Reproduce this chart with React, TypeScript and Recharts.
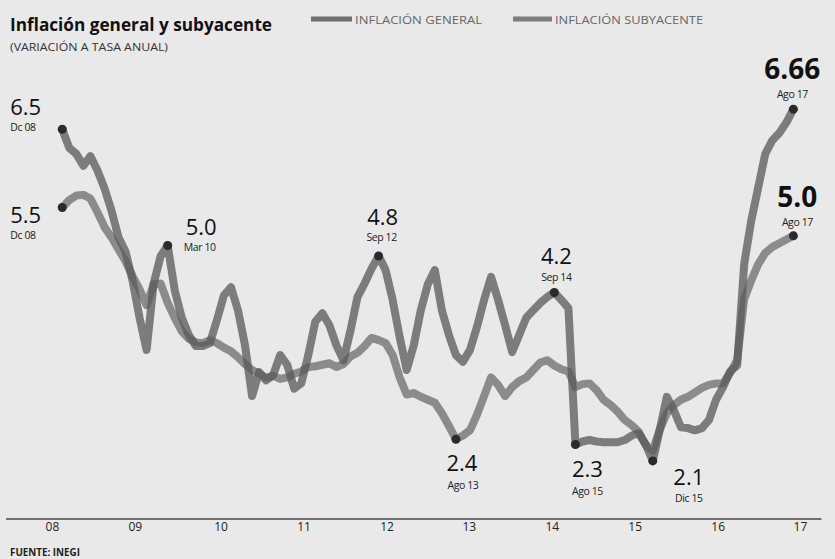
import React from "react";
import { LineChart, Line, XAxis, YAxis, ReferenceDot } from "recharts";

// monthly values, Dec 2008 (index 0) to Aug 2017 (index 104)
const general = [
  6.53,
  6.28, 6.2, 6.04, 6.17, 5.98, 5.74, 5.44, 5.08, 4.89, 4.5, 4.0, 3.57,
  4.46, 4.83, 4.97, 4.37, 4.0, 3.77, 3.62, 3.62, 3.66, 3.97, 4.3, 4.41,
  4.1, 3.63, 2.95, 3.27, 3.16, 3.23, 3.5, 3.37, 3.05, 3.12, 3.5, 3.95,
  4.06, 3.9, 3.63, 3.43, 3.83, 4.28, 4.46, 4.66, 4.83, 4.64, 4.24, 3.74,
  3.3, 3.63, 4.1, 4.45, 4.64, 4.1, 3.77, 3.5, 3.41, 3.57, 3.88, 4.24,
  4.55, 4.24, 3.9, 3.54, 3.77, 4.0, 4.1, 4.2, 4.28, 4.34, 4.24, 4.13,
  2.3, 2.34, 2.36, 2.34, 2.33, 2.33, 2.33, 2.36, 2.42, 2.45, 2.3, 2.08,
  2.5, 2.94, 2.76, 2.53, 2.52, 2.49, 2.52, 2.63, 2.9, 3.07, 3.28, 3.36,
  4.72, 5.3, 5.75, 6.2, 6.38, 6.48, 6.62, 6.8,
];

const core = [
  5.48,
  5.58, 5.64, 5.65, 5.6, 5.42, 5.22, 5.08, 4.92, 4.76, 4.56, 4.38, 4.17,
  4.45, 4.46, 4.2, 4.0, 3.82, 3.72, 3.67, 3.66, 3.7, 3.66, 3.6, 3.55,
  3.47, 3.38, 3.3, 3.25, 3.2, 3.22, 3.18, 3.2, 3.25, 3.28, 3.34, 3.35,
  3.37, 3.39, 3.34, 3.38, 3.48, 3.53, 3.62, 3.73, 3.7, 3.66, 3.5, 3.2,
  2.97, 2.99, 2.94, 2.9, 2.86, 2.72, 2.55, 2.37, 2.42, 2.49, 2.7, 2.95,
  3.2, 3.1, 2.95, 3.07, 3.15, 3.2, 3.3, 3.4, 3.43, 3.36, 3.31, 3.28,
  3.07, 3.11, 3.12, 3.03, 2.9, 2.83, 2.74, 2.63, 2.56, 2.47, 2.29, 2.22,
  2.5, 2.72, 2.83, 2.9, 2.94, 3.0, 3.06, 3.1, 3.12, 3.12, 3.26, 3.43,
  4.25, 4.5, 4.72, 4.87, 4.95, 5.0, 5.05, 5.1,
];

const yearLabels = ["08", "09", "10", "11", "12", "13", "14", "15", "16", "17"];
// where each year label sits, in month index
const yearTickPos = [-1.4, 10.4, 22.6, 34.4, 46.2, 57.9, 69.7, 81.5, 93.3, 105];

// labelled points
const annotations = [
  { series: "general", m: 0, value: "6.5", date: "Dc 08" },
  { series: "core", m: 0, value: "5.5", date: "Dc 08" },
  { series: "general", m: 15, value: "5.0", date: "Mar 10" },
  { series: "general", m: 45, value: "4.8", date: "Sep 12" },
  { series: "general", m: 70, value: "4.2", date: "Sep 14" },
  { series: "core", m: 56, value: "2.4", date: "Ago 13" },
  { series: "general", m: 73, value: "2.3", date: "Ago 15" },
  { series: "general", m: 84, value: "2.1", date: "Dic 15" },
  { series: "general", m: 104, value: "6.66", date: "Ago 17" },
  { series: "core", m: 104, value: "5.0", date: "Ago 17" },
];

// text placement relative to each dot
const annotationLayout = [
  { anchor: "start", vx: -52, vy: -14, dx: -52, dy: 2, bold: false },
  { anchor: "start", vx: -52, vy: 15, dx: -52, dy: 31, bold: false },
  { anchor: "start", vx: 18, vy: -11, dx: 16, dy: 5, bold: false },
  { anchor: "middle", vx: 4, vy: -31, dx: 3, dy: -15, bold: false },
  { anchor: "middle", vx: 2, vy: -28, dx: 2, dy: -11, bold: false },
  { anchor: "middle", vx: 6, vy: 32, dx: 7, dy: 50, bold: false },
  { anchor: "middle", vx: 12, vy: 33, dx: 12, dy: 51, bold: false },
  { anchor: "middle", vx: 36, vy: 24, dx: 36, dy: 41, bold: false },
  { anchor: "middle", vx: -1, vy: -30, dx: -1, dy: -11, bold: true },
  { anchor: "middle", vx: 4, vy: -29, dx: 4, dy: -10, bold: true },
];

const rows = general.map((g, i) => ({ m: i, general: g, core: core[i] }));

const FONT = "'Open Sans', 'Noto Sans', sans-serif";

function makeShape(idx: number) {
  const a = annotations[idx];
  const l = annotationLayout[idx];
  return (p: any) => {
    const cx = p.cx;
    const cy = p.cy;
    if (cx == null || cy == null) return <g />;
    return (
      <g>
        <circle cx={cx} cy={cy} r={4.5} fill="#2b2b2b" />
        <text
          x={cx + l.vx}
          y={cy + l.vy}
          textAnchor={l.anchor}
          fontFamily={FONT}
          fontSize={l.bold ? 28 : 22}
          fontWeight={l.bold ? 700 : 400}
          fill="#111"
        >
          {a.value}
        </text>
        <text
          x={cx + l.dx}
          y={cy + l.dy}
          textAnchor={l.anchor}
          fontFamily={FONT}
          fontSize={10.5}
          letterSpacing={-0.4}
          fill="#222"
        >
          {a.date}
        </text>
      </g>
    );
  };
}

export default function App() {
  return (
    <div style={{ position: "relative", width: 835, height: 559, background: "#e9e9e9" }}>
      <style>{`body{margin:0;background:#e9e9e9}`}</style>
      <LineChart
        width={835}
        height={559}
        data={rows}
        margin={{ top: 57, right: 13.5, left: 6, bottom: 10 }}
      >
        <XAxis
          dataKey="m"
          type="number"
          domain={[-8, 108]}
          ticks={yearTickPos}
          tickFormatter={(_v: number, i: number) => yearLabels[i]}
          tickLine={false}
          tickSize={3}
          tickMargin={0}
          height={30}
          axisLine={{ stroke: "#707070", strokeWidth: 2 }}
          tick={{ fill: "#222", fontSize: 12, fontFamily: FONT }}
          interval={0}
        />
        <YAxis hide type="number" domain={[1.3, 7.5]} />
        <Line
          dataKey="core"
          type="linear"
          stroke="#666"
          strokeOpacity={0.72}
          strokeWidth={8}
          strokeLinejoin="round"
          strokeLinecap="round"
          dot={false}
          isAnimationActive={false}
        />
        <Line
          dataKey="general"
          type="linear"
          stroke="#5a5a5a"
          strokeOpacity={0.76}
          strokeWidth={8}
          strokeLinejoin="round"
          strokeLinecap="round"
          dot={false}
          isAnimationActive={false}
        />
        {annotations.map((a, i) => (
          <ReferenceDot
            key={i}
            x={a.m}
            y={a.series === "general" ? general[a.m] : core[a.m]}
            r={4.5}
            shape={makeShape(i)}
            ifOverflow="visible"
          />
        ))}
      </LineChart>
      <svg
        width={835}
        height={559}
        style={{ position: "absolute", left: 0, top: 0, pointerEvents: "none" }}
      >
        <text x={10} y={31} fontFamily={FONT} fontSize={18} fontWeight={700} fill="#111" textLength={262} lengthAdjust="spacingAndGlyphs">
          Inflación general y subyacente
        </text>
        <text x={10} y={51} fontFamily={FONT} fontSize={10} fill="#333" textLength={158} lengthAdjust="spacingAndGlyphs">
          (VARIACIÓN A TASA ANUAL)
        </text>
        <line x1={311} y1={19} x2={352} y2={19} stroke="#6f6f6f" strokeWidth={5} />
        <text x={355} y={24} fontFamily={FONT} fontSize={10.5} fill="#666" textLength={127} lengthAdjust="spacingAndGlyphs">
          INFLACIÓN GENERAL
        </text>
        <line x1={513} y1={19} x2={552} y2={19} stroke="#7d7d7d" strokeWidth={5} />
        <text x={555} y={24} fontFamily={FONT} fontSize={10.5} fill="#666" textLength={148} lengthAdjust="spacingAndGlyphs">
          INFLACIÓN SUBYACENTE
        </text>
        <text x={10} y={556} fontFamily={FONT} fontSize={11} fontWeight={700} fill="#222" textLength={70} lengthAdjust="spacingAndGlyphs">
          FUENTE: INEGI
        </text>
      </svg>
    </div>
  );
}
